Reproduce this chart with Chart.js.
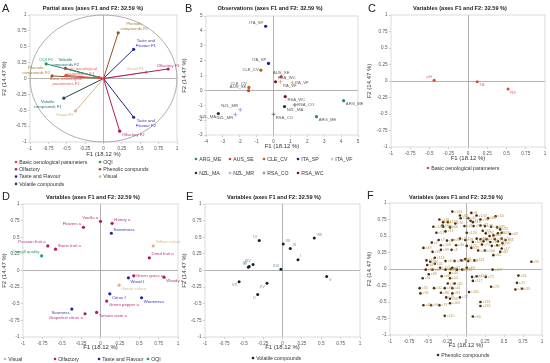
<!DOCTYPE html>
<html>
<head>
<meta charset="utf-8">
<script src="https://cdn.jsdelivr.net/npm/chart.js@4.4.0/dist/chart.umd.min.js"></script>
<style>
  body { margin: 0; background: #fff; width: 550px; height: 363px; position: relative; overflow: hidden; }
  canvas { position: absolute; }
</style>
</head>
<body>
<canvas id="chartA" width="185" height="190" style="left:0;top:0"></canvas>
<canvas id="chartB" width="185" height="180" style="left:180px;top:0"></canvas>
<canvas id="chartC" width="185" height="180" style="left:365px;top:0"></canvas>
<canvas id="chartD" width="183" height="181" style="left:0;top:182px"></canvas>
<canvas id="chartE" width="185" height="181" style="left:180px;top:182px"></canvas>
<canvas id="chartF" width="185" height="181" style="left:365px;top:182px"></canvas>
<script>
// ---- data ----
// tick values
const unitTicks = [-1, -0.75, -0.5, -0.25, 0, 0.25, 0.5, 0.75, 1];
const obsTicksX = [-4, -3, -2, -1, 0, 1, 2, 3, 4, 5];
const obsTicksY = [-3, -2, -1, 0, 1, 2, 3, 4, 5];

// A: partial axes
const vecNames = ['Basic oenological\nparameters F1', 'Basic oenological\nparameters F2', 'OQI F1', 'Olfactory F1', 'Olfactory F2',
  'Phenolic\ncompounds F1', 'Phenolic\ncompounds F2', 'Taste and\nFlavour F1', 'Taste and\nFlavour F2', 'Visual F1', 'Visual F2',
  'Volatile\ncompounds F1', 'Volatile\ncompounds F2'];
const vecGroup = ['Basic oenological parameters', 'Basic oenological parameters', 'OQI', 'Olfactory', 'Olfactory',
  'Phenolic compunds', 'Phenolic compunds', 'Taste and Flavour', 'Taste and Flavour', 'Visual', 'Visual',
  'Volatile compounds', 'Volatile compounds'];
const vecF1 = [-0.06, -0.51, -0.78, 0.88, 0.22, 0.20, -0.70, 0.41, 0.41, 0.58, -0.38, -0.54, -0.52];
const vecF2 = [0.02, 0.05, 0.23, 0.15, -0.83, 0.72, 0.04, 0.46, -0.61, 0.10, -0.51, -0.31, 0.16];
const groupsA = ['Basic oenological parameters', 'OQI', 'Olfactory', 'Phenolic compunds', 'Taste and Flavour', 'Visual', 'Volatile compounds'];

// B: observations
const obsGroups = ['ARG_ME', 'AUS_SE', 'CLE_CV', 'ITA_SP', 'ITA_VF', 'NZL_MA', 'NZL_MR', 'RSA_CO', 'RSA_WC'];
const obsNames = ['ARG_ME', 'ARG_ME', 'AUS_SE', 'AUS_SE', 'CLE_CV', 'CLE_CV', 'ITA_SP', 'ITA_SP', 'ITA_VF', 'ITA_VF',
  'NZL_MA', 'NZL_MA', 'NZL_MR', 'NZL_MR', 'RSA_CO', 'RSA_CO', 'RSA_WC', 'RSA_WC'];
const obsF1 = [4.15, 2.54, 0.45, -1.48, -0.75, -1.46, -0.47, -0.30, 0.41, 1.12, 0.65, -3.27, -1.97, -2.26, 1.26, 0.00, 0.12, 0.69];
const obsF2 = [-0.69, -1.77, 0.92, -0.02, 1.36, 0.20, 4.31, 1.81, 0.58, 0.51, -1.09, -1.56, -1.30, -1.63, -0.98, -1.61, 0.58, -0.42];

// C: basic oenological parameters
const basicNames = ['pH', 'TA', 'RS'];
const basicF1 = [-0.44, 0.12, 0.52];
const basicF2 = [0.01, -0.01, -0.12];

// D: sensory variables
const attrNames = ['Vanilla a', 'Honey a', 'Flowers a', 'Sweetness', 'Passion fruit a', 'Stone fruit a', 'Overall quality',
  'Yellow colour', 'Dried fruit a', 'Green grass a', 'Wood f', 'Woody a', 'Green colour', 'Citrus f', 'Warmness',
  'Green pepper a', 'Sourness', 'Grapefruit citrus a', 'Tomato stem a'];
const attrGroup = ['Olfactory', 'Olfactory', 'Olfactory', 'Taste and Flavour', 'Olfactory', 'Olfactory', 'OQI',
  'Visual', 'Olfactory', 'Olfactory', 'Taste and Flavour', 'Olfactory', 'Visual', 'Taste and Flavour', 'Taste and Flavour',
  'Olfactory', 'Taste and Flavour', 'Olfactory', 'Olfactory'];
const attrF1 = [0.00, 0.15, -0.22, 0.14, -0.68, -0.58, -0.76, 0.68, 0.63, 0.43, 0.36, 0.82, 0.24, 0.12, 0.53, 0.08, -0.37, -0.20, -0.05];
const attrF2 = [0.74, 0.71, 0.65, 0.56, 0.37, 0.32, 0.22, 0.37, 0.19, -0.08, -0.11, -0.10, -0.22, -0.35, -0.41, -0.46, -0.58, -0.65, -0.63];
const groupsD = ['Visual', 'Olfactory', 'Taste and Flavour', 'OQI'];

// E: volatile compounds
const volNames = ['IV', 'XII', 'XI', 'I', 'VIII', 'XIII', 'XIV', 'VI', 'III', 'VII', 'XV', 'II', 'V'];
const volF1 = [-0.30, 0.01, 0.10, 0.20, 0.41, -0.02, -0.38, -0.43, -0.44, -0.56, -0.20, -0.32, 0.57];
const volF2 = [0.45, 0.40, 0.33, 0.16, 0.49, 0.02, 0.09, 0.06, 0.05, -0.17, -0.19, -0.36, -0.09];

// F: phenolic compounds
const phenNames = ['c124','c97','c8','c103','c118','c64','c36','c42','c47','c18',
  'c76','c88','c50','c126','c70','c128','c125','c11','c66','c24',
  'c9','c61','c39','c112','c85','c26','c51','c13','c120','c53',
  'c93','c27','c14','c81','c59','c62','c7','c87','c33','c111',
  'c78','c104','c46','c95','c1','c119','c34','c38','c57','c22',
  'c84','c2','c109','c30','c122','c19','c71','c43','c15','c60',
  'c17','c3','c49','c99','c29','c106','c65','c82','c16','c113',
  'c80','c74','c100','c121','c23','c4','c116','c123','c92','c67',
  'c45','c102','c31','c58','c98','c108','c6','c28','c115','c63',
  'c107','c69','c40','c68','c91','c52','c127','c114','c75','c54',
  'c35','c32','c89','c44','c20','c5','c117','c73','c21','c41',
  'c96','c86','c83','c101','c10','c56','c12','c94','c37','c105',
  'c131','c132','c110','c90','c48','c55'];
const phenF1 = [-0.18,-0.08,0.07,0.14,-0.35,-0.30,-0.07,0.03,0.06,0.09,
  0.19,0.29,0.39,-0.24,-0.14,-0.43,-0.30,-0.31,-0.21,-0.02,
  0.10,0.19,0.25,0.33,0.41,0.45,-0.39,-0.27,0.01,0.22,
  0.26,0.31,0.36,0.42,0.47,0.58,-0.36,-0.25,-0.18,-0.08,
  -0.01,0.09,0.14,0.19,0.23,0.27,0.32,0.38,0.42,0.47,
  0.52,-0.45,-0.33,-0.13,0.01,0.07,0.21,0.34,0.41,0.48,
  0.47,-0.19,-0.56,-0.33,0.16,0.25,0.36,0.45,-0.44,-0.41,
  -0.47,-0.52,-0.27,-0.15,-0.06,-0.01,0.03,0.11,0.86,-0.51,
  -0.41,-0.34,-0.18,-0.53,-0.44,-0.27,-0.20,-0.12,-0.05,0.01,
  0.35,-0.49,-0.21,-0.32,-0.57,-0.21,0.08,0.14,0.26,0.69,
  -0.61,-0.42,-0.28,-0.18,-0.15,-0.24,0.09,0.33,0.67,0.65,
  -0.60,-0.33,-0.18,0.04,-0.26,-0.21,-0.08,-0.46,-0.35,-0.21,
  0.19,0.19,-0.28,0.09,-0.56,0.74];
const phenF2 = [0.87,0.81,0.85,0.81,0.75,0.71,0.77,0.77,0.73,0.71,
  0.75,0.77,0.80,0.71,0.69,0.64,0.64,0.66,0.63,0.65,
  0.65,0.66,0.65,0.64,0.63,0.60,0.55,0.57,0.55,0.58,
  0.54,0.50,0.51,0.54,0.55,0.53,0.44,0.43,0.44,0.46,
  0.44,0.41,0.46,0.45,0.42,0.45,0.41,0.45,0.42,0.46,
  0.44,0.40,0.36,0.36,0.35,0.32,0.37,0.35,0.36,0.39,
  0.31,0.29,0.32,0.29,0.28,0.28,0.21,0.26,0.26,0.17,
  0.11,0.13,0.12,0.12,0.13,0.15,0.12,0.13,0.11,0.06,
  0.08,0.02,0.02,-0.01,-0.01,-0.01,0.00,-0.01,-0.01,0.02,
  -0.01,-0.08,-0.06,-0.11,-0.14,-0.14,-0.12,-0.11,-0.12,-0.10,
  -0.29,-0.29,-0.29,-0.29,-0.22,-0.22,-0.18,-0.27,-0.21,-0.31,
  -0.37,-0.36,-0.37,-0.35,-0.43,-0.45,-0.43,-0.55,-0.55,-0.52,
  -0.50,-0.56,-0.71,-0.72,-0.55,-0.30];

// ---- styling ----
const FONT = '"Liberation Sans", Arial, sans-serif';
Chart.defaults.font.family = FONT;
Chart.defaults.animation = false;

const groupColor = {
  'Basic oenological parameters': '#e8453c', 'OQI': '#1f9a64', 'Olfactory': '#b01a5e',
  'Phenolic compunds': '#8a5a26', 'Taste and Flavour': '#25259a', 'Visual': '#d8b888', 'Volatile compounds': '#1d4a56'
};
const groupLabelColor = {
  'Basic oenological parameters': '#ee5c5c', 'OQI': '#2a9a66', 'Olfactory': '#c0307a',
  'Phenolic compunds': '#a88040', 'Taste and Flavour': '#3636b8', 'Visual': '#d6b680', 'Volatile compounds': '#2f6a74'
};
const obsColor = {
  ARG_ME: '#2a8c6e', AUS_SE: '#e8362e', CLE_CV: '#b8621b', ITA_SP: '#1c1c8c', ITA_VF: '#d4b48a',
  NZL_MA: '#1a3a4a', NZL_MR: '#8ea6d8', RSA_CO: '#5a7a7a', RSA_WC: '#7a1028'
};
const obsStyle = { ITA_VF: 'cross', NZL_MR: 'cross', RSA_CO: 'cross' };

const vecSide = ['nw', 's', 'n', 'n', 'se', 'ne', 'nw', 'ne', 'se', 'nw', 'sw', 'sw', 'n'];
const obsSide = ['se', 'se', 'n', 'nw', 'w', 'nw', 'nw', 'nw', 'se', 'e', 'se', 'sw', 'nw', 'sw', 'e', 'se', 'ne', 'se'];
const basicSide = ['nw', 'se', 'se'];
const attrSide = ['nw', 'ne', 'nw', 'ne', 'nw', 'ne', 'nw', 'ne', 'ne', 'e', 'se', 'se', 'se', 'se', 'se', 'se', 'sw', 'sw', 'se'];
const volSide = ['nw', 'ne', 'ne', 'ne', 'ne', 'nw', 'nw', 'nw', 'nw', 'sw', 'sw', 'sw', 'se'];

const SIDE = { n: [0, -1], s: [0, 1], e: [1, 0], w: [-1, 0], ne: [1, -1], nw: [-1, -1], se: [1, 1], sw: [-1, 1] };

function drawLabel(ctx, txt, x, y, side, color, fs) {
  const [sx, sy] = SIDE[side] || SIDE.e;
  const lines = txt.split('\n');
  const lh = fs * 1.15;
  const w = Math.max(...lines.map(l => ctx.measureText(l).width));
  const gap = 2.2;
  const cx = x + sx * (gap + w / 2);
  const total = lh * lines.length;
  let top;
  if (sy < 0) top = y - gap - total + 1;
  else if (sy > 0) top = y + gap - 1;
  else top = y - total / 2;
  ctx.fillStyle = color;
  ctx.textAlign = 'center';
  ctx.textBaseline = 'middle';
  lines.forEach((l, k) => ctx.fillText(l, cx, top + lh * (k + 0.5)));
}

function marker(ctx, x, y, color, style) {
  ctx.fillStyle = color; ctx.strokeStyle = color;
  if (style === 'cross') {
    ctx.lineWidth = 0.8;
    ctx.beginPath(); ctx.moveTo(x - 1.6, y); ctx.lineTo(x + 1.6, y); ctx.moveTo(x, y - 1.6); ctx.lineTo(x, y + 1.6); ctx.stroke();
  } else {
    ctx.beginPath(); ctx.arc(x, y, 1.3, 0, Math.PI * 2); ctx.fill();
  }
}

const decor = {
  id: 'decor',
  beforeDatasetsDraw(chart) {
    const { ctx, chartArea: a, scales } = chart;
    const o = chart.options.plugins.decor;
    ctx.save();
    ctx.strokeStyle = '#d2d2d2'; ctx.lineWidth = 0.8;
    ctx.strokeRect(a.left, a.top, a.right - a.left, a.bottom - a.top);
    if (o.circle) {
      const cx = scales.x.getPixelForValue(0), cy = scales.y.getPixelForValue(0);
      const rx = scales.x.getPixelForValue(1) - cx, ry = cy - scales.y.getPixelForValue(1);
      ctx.strokeStyle = '#9a9a9a';
      ctx.beginPath(); ctx.ellipse(cx, cy, rx, ry, 0, 0, Math.PI * 2); ctx.stroke();
    }
    ctx.restore();
  },
  afterDatasetsDraw(chart) {
    const ctx = chart.ctx;
    const o = chart.options.plugins.decor;
    ctx.save();
    ctx.font = o.labelSize + 'px ' + FONT;
    chart.data.datasets.forEach((ds, di) => {
      if (!ds.pointLabels) return;
      chart.getDatasetMeta(di).data.forEach((pt, i) => {
        const txt = ds.pointLabels[i];
        if (txt) drawLabel(ctx, txt, pt.x, pt.y, ds.labelSides[i], ds.labelColor, o.labelSize);
      });
    });
    ctx.restore();
  },
  afterDraw(chart) {
    const ctx = chart.ctx;
    const o = chart.options.plugins.decor;
    ctx.save();
    ctx.fillStyle = '#222';
    ctx.textBaseline = 'middle';
    ctx.textAlign = 'left';
    ctx.font = '11px ' + FONT;
    ctx.fillText(o.letter, o.letterX, o.letterY);
    ctx.textAlign = 'center';
    ctx.font = 'bold 5.6px ' + FONT;
    ctx.fillText(o.title, o.titleX, o.titleY);
    const lg = o.legend;
    ctx.font = '5.2px ' + FONT;
    lg.items.forEach((it, k) => {
      const col = k % lg.x.length, row = Math.floor(k / lg.x.length);
      const x = lg.x[col], y = lg.y0 + row * lg.dy;
      marker(ctx, x, y, it.color, it.style);
      ctx.fillStyle = '#333';
      ctx.textAlign = 'left';
      ctx.fillText(it.text, x + 3.2, y + 0.3);
    });
    ctx.restore();
  }
};

function axis(dir, vals, title, size) {
  return {
    type: 'linear', position: dir === 'x' ? 'bottom' : 'left',
    min: vals[0], max: vals[vals.length - 1],
    afterBuildTicks: s => { s.ticks = vals.map(v => ({ value: v })); },
    ticks: { autoSkip: false, maxRotation: 0, font: { size: 4.6 }, color: '#555', padding: 1.5, callback: v => String(v) },
    grid: {
      color: c => (c.tick && c.tick.value === 0) ? '#a0a0a0' : 'rgba(0,0,0,0)',
      lineWidth: 0.8, tickColor: '#c4c4c4', tickLength: 2
    },
    border: { display: false },
    title: { display: true, text: title, font: { size: 6 }, color: '#333', padding: 1 },
    afterFit: s => { if (dir === 'x') s.height = size; else s.width = size; }
  };
}

function makeChart(id, datasets, geo, decorOpts) {
  return new Chart(document.getElementById(id), {
    type: 'scatter',
    data: { datasets },
    options: {
      responsive: false,
      layout: { padding: geo.pad },
      scales: {
        x: axis('x', geo.x, 'F1 (18.12 %)', geo.xh),
        y: axis('y', geo.y, 'F2 (14.47 %)', geo.yw)
      },
      plugins: { legend: { display: false }, tooltip: { enabled: false }, decor: decorOpts }
    },
    plugins: [decor]
  });
}

// ---- A ----
const dsA = vecNames.map((name, i) => ({
  data: [{ x: 0, y: 0 }, { x: vecF1[i], y: vecF2[i] }],
  showLine: true,
  borderColor: groupColor[vecGroup[i]],
  backgroundColor: groupColor[vecGroup[i]],
  borderWidth: 1,
  pointRadius: [0, 1.6],
  pointBorderWidth: 0,
  pointLabels: [null, name],
  labelSides: [null, vecSide[i]],
  labelColor: groupLabelColor[vecGroup[i]]
}));
makeChart('chartA', dsA,
  { pad: { top: 15, right: 8, bottom: 31, left: 0 }, x: unitTicks, y: unitTicks, xh: 17, yw: 30 },
  { letter: 'A', letterX: 2, letterY: 9, title: 'Partial axes (axes F1 and F2: 32.59 %)', titleX: 93, titleY: 8,
    circle: true, labelSize: 4.2,
    legend: { items: groupsA.map(g => ({ text: g, color: groupColor[g] })), x: [16, 100], y0: 162, dy: 7.3 } });

// ---- B ----
const dsB = obsGroups.map(g => {
  const idx = obsNames.map((n, i) => n === g ? i : -1).filter(i => i >= 0);
  return {
    data: idx.map(i => ({ x: obsF1[i], y: obsF2[i] })),
    pointStyle: obsStyle[g] || 'circle',
    pointRadius: obsStyle[g] ? 2 : 1.6,
    pointBorderWidth: obsStyle[g] ? 0.9 : 0,
    backgroundColor: obsColor[g],
    borderColor: obsColor[g],
    pointLabels: idx.map(i => obsNames[i]),
    labelSides: idx.map(i => obsSide[i]),
    labelColor: '#5a5a5a'
  };
});
makeChart('chartB', dsB,
  { pad: { top: 16, right: 7, bottom: 29, left: 0 }, x: obsTicksX, y: obsTicksY, xh: 16, yw: 26 },
  { letter: 'B', letterX: 5, letterY: 9, title: 'Observations (axes F1 and F2: 32.59 %)', titleX: 90, titleY: 8,
    labelSize: 4.2,
    legend: { items: obsGroups.map(g => ({ text: g, color: obsColor[g], style: obsStyle[g] })), x: [16, 50, 84, 118, 152], y0: 159, dy: 14 } });

// ---- C ----
makeChart('chartC', [{
  data: basicF1.map((v, i) => ({ x: v, y: basicF2[i] })),
  pointRadius: 1.5, pointBorderWidth: 0,
  backgroundColor: groupColor['Basic oenological parameters'],
  pointLabels: basicNames, labelSides: basicSide, labelColor: '#ee6a6a'
}],
  { pad: { top: 15, right: 5, bottom: 17, left: 0 }, x: unitTicks, y: unitTicks, xh: 16, yw: 26 },
  { letter: 'C', letterX: 3, letterY: 9, title: 'Variables (axes F1 and F2: 32.59 %)', titleX: 95, titleY: 8,
    labelSize: 4.2,
    legend: { items: [{ text: 'Basic oenological parameters', color: groupColor['Basic oenological parameters'] }], x: [63], y0: 168, dy: 7 } });

// ---- D ----
const dsD = groupsD.map(g => {
  const idx = attrGroup.map((n, i) => n === g ? i : -1).filter(i => i >= 0);
  return {
    data: idx.map(i => ({ x: attrF1[i], y: attrF2[i] })),
    pointRadius: 1.6, pointBorderWidth: 0,
    backgroundColor: groupColor[g],
    pointLabels: idx.map(i => attrNames[i]),
    labelSides: idx.map(i => attrSide[i]),
    labelColor: groupLabelColor[g]
  };
});
makeChart('chartD', dsD,
  { pad: { top: 22, right: 5, bottom: 11, left: 0 }, x: unitTicks, y: unitTicks, xh: 15, yw: 23 },
  { letter: 'D', letterX: 2, letterY: 15, title: 'Variables (axes F1 and F2: 32.59 %)', titleX: 93, titleY: 15,
    labelSize: 4.3,
    legend: { items: groupsD.map(g => ({ text: g, color: groupColor[g] })), x: [5, 55, 99, 148], y0: 177, dy: 7 } });

// ---- E ----
makeChart('chartE', [{
  data: volF1.map((v, i) => ({ x: v, y: volF2[i] })),
  pointRadius: 1.5, pointBorderWidth: 0,
  backgroundColor: '#16202c',
  pointLabels: volNames, labelSides: volSide, labelColor: '#6a98a6'
}],
  { pad: { top: 22, right: 5, bottom: 11, left: 0 }, x: unitTicks, y: unitTicks, xh: 15, yw: 25 },
  { letter: 'E', letterX: 6, letterY: 15, title: 'Variables (axes F1 and F2: 32.59 %)', titleX: 94, titleY: 15,
    labelSize: 4.0,
    legend: { items: [{ text: 'Volatile compounds', color: '#16202c' }], x: [73], y0: 176, dy: 7 } });

// ---- F ----
makeChart('chartF', [{
  data: phenF1.map((v, i) => ({ x: v, y: phenF2[i] })),
  pointRadius: 1.3, pointBorderWidth: 0,
  backgroundColor: '#4a2c0c',
  pointLabels: phenNames, labelSides: phenNames.map(() => 'e'), labelColor: '#b8924a'
}],
  { pad: { top: 21, right: 8, bottom: 13, left: 0 }, x: unitTicks, y: unitTicks, xh: 15, yw: 25 },
  { letter: 'F', letterX: 2, letterY: 14, title: 'Variables (axes F1 and F2: 32.59 %)', titleX: 91, titleY: 15,
    labelSize: 3.6,
    legend: { items: [{ text: 'Phenolic compounds', color: '#4a2c0c' }], x: [73], y0: 173, dy: 7 } });
</script>
</body>
</html>
